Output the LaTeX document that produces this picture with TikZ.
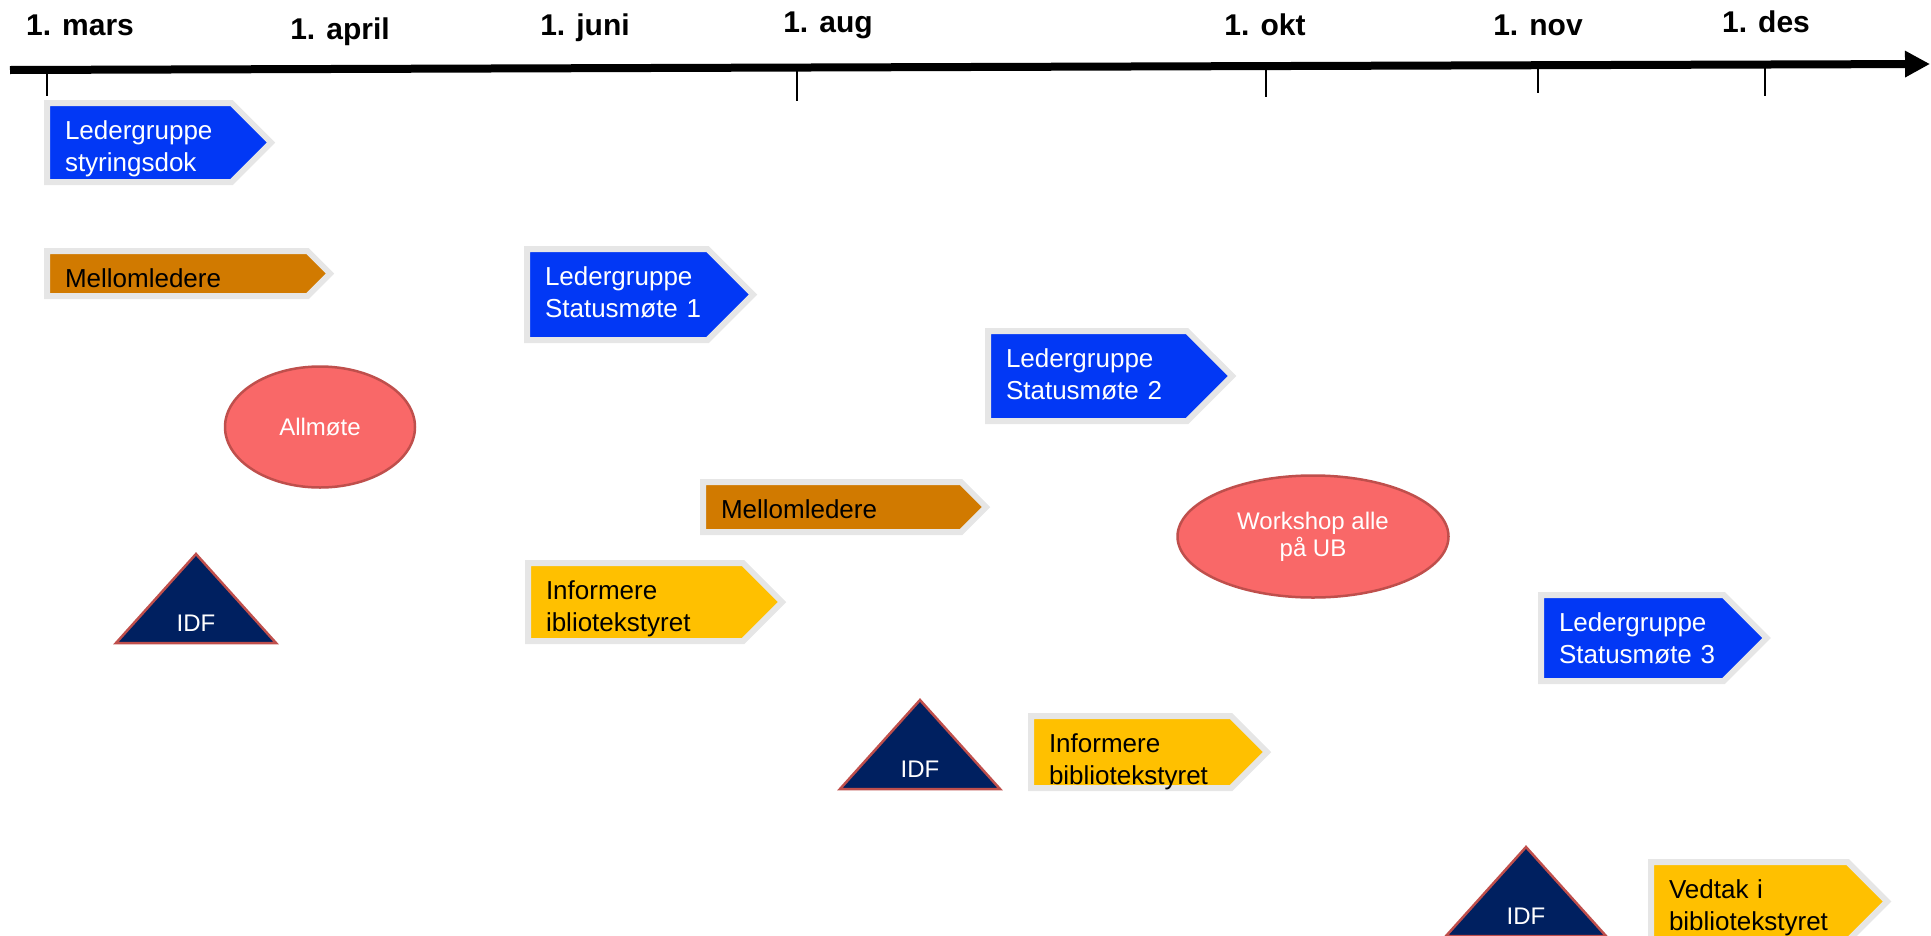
\documentclass[tikz,border=0pt]{standalone}
\usepackage{fontspec}
\setmainfont{Liberation Sans}
\usetikzlibrary{shapes.symbols,shapes.geometric,arrows.meta}
\definecolor{leadblue}{HTML}{0238F5}
\definecolor{midorange}{HTML}{D17A00}
\definecolor{infoyellow}{HTML}{FFC000}
\definecolor{tagedge}{HTML}{E6E6E6}
\definecolor{meetfill}{HTML}{F96868}
\definecolor{meetedge}{HTML}{BF4F4C}
\definecolor{idfnavy}{HTML}{002060}

\begin{document}
\begin{tikzpicture}[x=1pt, y=-1pt,
  tag/.style={signal, signal to=east, draw=tagedge, line width=6pt, anchor=west, align=left,
    inner xsep=18pt, inner ysep=0pt, text height=36pt, font=\fontsize{26}{32}\selectfont},
  meet/.style={ellipse, draw=meetedge, line width=2.5pt, fill=meetfill, text=white,
    inner sep=0pt, align=center, font=\fontsize{24}{27}\selectfont},
  idf/.style={draw=meetedge, line width=2.5pt, fill=idfnavy},
  idftext/.style={anchor=base, text=white, font=\fontsize{24}{27}\selectfont},
  month/.style={anchor=base, font=\bfseries\fontsize{30}{36}\selectfont}]
  \useasboundingbox (0,0) rectangle (1931,935);
  % time axis
  \draw[line width=8pt, -{Triangle[length=25pt, width=25pt]}] (10,70) -- (1930,64);
  \foreach \x/\ya/\yb in {47/70/96, 797/67/101, 1266/66/97, 1538/65/93, 1765/64/96}
    \draw[line width=1.5pt] (\x,\ya) -- (\x,\yb);
  \foreach \x/\y/\m [count=\i] in {80/35/mars, 340/39/april, 585/35/juni, 828/32/aug, 1265/35/okt, 1538/35/nov, 1766/32/des}
    \node[month] (month\i) at (\x,\y) {1. \m};
  % activities
  \node[tag, fill=leadblue, text=white, text width=148.5pt, text depth=43pt] (styr) at (44,142.5) {Ledergruppe\\styringsdok};
  \node[tag, fill=midorange, text width=224.5pt, text depth=9pt] (mell1) at (44,273.5) {Mellomledere};
  \node[tag, fill=leadblue, text=white, text width=144.5pt, text depth=55pt] (stat1) at (524,294.5) {Ledergruppe\\Statusmøte~1};
  \node[tag, fill=leadblue, text=white, text width=163pt, text depth=54pt] (stat2) at (985,376) {Ledergruppe\\Statusmøte~2};
  \node[tag, fill=midorange, text width=222pt, text depth=14pt] (mell2) at (700,507) {Mellomledere};
  \node[tag, fill=infoyellow, text width=179pt, text depth=42pt] (info1) at (525,602) {Informere\\ibliotekstyret};
  \node[tag, fill=leadblue, text=white, text width=146.5pt, text depth=50pt] (stat3) at (1538,638) {Ledergruppe\\Statusmøte~3};
  \node[tag, fill=infoyellow, text width=164pt, text depth=36pt] (info2) at (1028,752) {Informere\\bibliotekstyret};
  \node[tag, fill=infoyellow, text width=160.5pt, text depth=43pt] (vedtak) at (1648,901.5) {Vedtak i\\bibliotekstyret};
  % meetings
  \node[meet, minimum width=190pt, minimum height=121pt] (allmote) at (320,427) {Allmøte};
  \node[meet, minimum width=271pt, minimum height=122pt] (workshop) at (1313,536.5) {Workshop alle\\på UB};
  \foreach \x/\y [count=\i] in {196/643, 920/789, 1526/936} {
    \draw[idf] (\x-80,\y) -- (\x,\y-89) -- (\x+80,\y) -- cycle;
    \node[idftext] (idf\i) at (\x,\y-12) {IDF};
  }
\end{tikzpicture}
\end{document}
